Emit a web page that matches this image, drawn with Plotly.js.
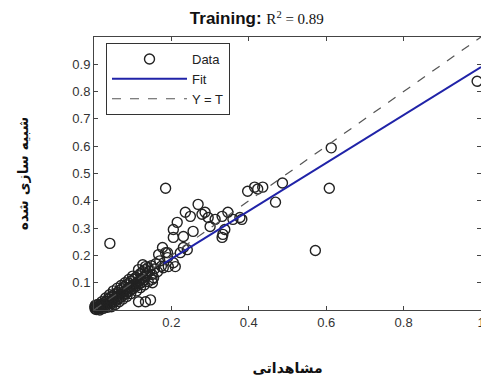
<!DOCTYPE html>
<html>
<head>
<meta charset="utf-8">
<script src="https://cdn.plot.ly/plotly-3.0.1.min.js"></script>
<style>html,body{margin:0;padding:0;background:#fff;}</style>
</head>
<body>
<div id="chart" style="width:481px;height:378px;"></div>
<script>
// Observed (T) and simulated (Y) values
var obsX = [
0.003,0.006,0.008,0.010,0.012,0.004,0.014,0.016,0.018,0.020,0.022,0.024,0.026,0.028,0.030,0.032,0.034,0.036,0.038,0.040,
0.042,0.044,0.046,0.048,0.050,0.052,0.054,0.056,0.058,0.060,0.062,0.064,0.066,0.068,0.070,0.072,0.074,0.076,0.078,0.080,
0.082,0.084,0.086,0.088,0.090,0.092,0.094,0.096,0.098,0.100,0.102,0.104,0.106,0.108,0.110,0.112,0.114,0.116,0.118,0.120,
0.122,0.124,0.126,0.128,0.130,0.132,0.134,0.138,0.140,0.144,0.148,0.150,0.156,0.160,0.164,0.170,0.174,0.060,0.050,0.040,
0.030,0.020,0.070,0.080,0.090,0.100,0.004,0.010,0.002,0.015,0.035,0.045,0.055,0.065,0.075,0.085,0.095,0.110,0.120,0.130,
0.140,0.150,
0.041,0.185,0.572,0.608,0.613,0.487,0.469,0.436,0.990,0.397,0.415,0.423,0.269,0.236,0.249,0.215,0.205,0.205,0.231,0.256,
0.295,0.313,0.331,0.346,0.359,0.333,0.300,0.382,0.177,0.167,0.185,0.223,0.231,0.241,0.205,0.179,0.133,0.151,0.115,0.133,
0.146,0.331,0.338,0.377,0.287,0.279,0.190,0.210,0.126,0.115,0.154,0.192,0.190
];
var simY = [
0.004,0.002,0.008,0.004,0.012,0.010,0.006,0.016,0.010,0.022,0.014,0.006,0.026,0.018,0.012,0.032,0.022,0.040,0.028,0.016,
0.046,0.034,0.024,0.052,0.040,0.030,0.058,0.046,0.036,0.064,0.052,0.042,0.072,0.058,0.048,0.078,0.064,0.054,0.086,0.070,
0.060,0.092,0.076,0.066,0.098,0.082,0.072,0.106,0.088,0.078,0.112,0.094,0.084,0.120,0.100,0.090,0.126,0.106,0.096,0.134,
0.112,0.102,0.140,0.120,0.110,0.148,0.126,0.136,0.156,0.142,0.162,0.130,0.150,0.170,0.140,0.180,0.160,0.080,0.070,0.056,
0.044,0.030,0.090,0.100,0.112,0.124,0.018,0.020,0.012,0.000,0.010,0.012,0.020,0.030,0.040,0.050,0.060,0.070,0.082,0.092,
0.104,0.112,
0.244,0.446,0.218,0.446,0.594,0.465,0.395,0.450,0.838,0.435,0.450,0.443,0.387,0.358,0.343,0.321,0.295,0.266,0.269,0.288,
0.339,0.332,0.343,0.358,0.332,0.277,0.306,0.332,0.229,0.203,0.210,0.210,0.229,0.221,0.173,0.155,0.159,0.100,0.030,0.030,
0.037,0.266,0.295,0.339,0.358,0.351,0.210,0.159,0.166,0.148,0.118,0.159,0.192
];
var fitX = [0.18, 1.0];
var fitY = [0.170, 0.890];
var idX = [0, 1];
var idY = [0, 1];
var xTicks = [0.2, 0.4, 0.6, 0.8, 1];
var xTickText = ["0.2", "0.4", "0.6", "0.8", "1"];
var yTicks = [0.1, 0.2, 0.3, 0.4, 0.5, 0.6, 0.7, 0.8, 0.9];
var yTickText = ["0.1", "0.2", "0.3", "0.4", "0.5", "0.6", "0.7", "0.8", "0.9"];

var traces = [
  {x: obsX, y: simY, type: 'scatter', mode: 'markers', name: 'Data', cliponaxis: false,
   marker: {symbol: 'circle-open', size: 10, color: '#222', line: {width: 1.4, color: '#222'}}},
  {x: fitX, y: fitY, type: 'scatter', mode: 'lines', name: 'Fit',
   line: {color: '#2023a8', width: 2}},
  {x: idX, y: idY, type: 'scatter', mode: 'lines', name: 'Y = T',
   line: {color: '#555', width: 1.2, dash: 'dash'}}
];

var axisCommon = {
  showgrid: false, zeroline: false, showline: true, linecolor: '#444', linewidth: 1,
  ticks: 'inside', ticklen: 4, tickcolor: '#444', mirror: 'ticks',
  tickfont: {family: 'Liberation Sans, Arial, sans-serif', size: 13, color: '#333'}
};

var layout = {
  width: 481, height: 378,
  margin: {l: 94, r: 0, t: 37, b: 68},
  paper_bgcolor: '#fff', plot_bgcolor: '#fff',
  showlegend: true,
  title: {
    text: "<b>Training:</b> <span style='font-family:Liberation Serif, Times New Roman, serif;font-size:15px'>R<sup>2</sup> = 0.89</span>",
    font: {family: 'Liberation Sans, Arial, sans-serif', size: 17, color: '#111'},
    x: 0.534, xref: 'container', xanchor: 'center',
    y: 0.952, yref: 'container', yanchor: 'middle'
  },
  xaxis: Object.assign({}, axisCommon, {
    range: [0, 1], tickvals: xTicks, ticktext: xTickText, ticklabeloverflow: 'allow',
    title: {text: '<b>مشاهداتی</b>', font: {family: 'DejaVu Sans, sans-serif', size: 14, color: '#111'}, standoff: 34}
  }),
  yaxis: Object.assign({}, axisCommon, {
    range: [0, 1], tickvals: yTicks, ticktext: yTickText,
    title: {text: '<b>شبیه سازی شده</b>', font: {family: 'DejaVu Sans, sans-serif', size: 14, color: '#111'}, standoff: 40}
  }),
  legend: {
    x: 0.031, y: 0.978, xanchor: 'left', yanchor: 'top',
    bgcolor: '#fff', bordercolor: '#333', borderwidth: 1,
    font: {family: 'Liberation Sans, Arial, sans-serif', size: 13, color: '#222'},
    itemwidth: 75, tracegroupgap: 0
  }
};

Plotly.newPlot('chart', traces, layout, {displayModeBar: false, responsive: false});
</script>
</body>
</html>
